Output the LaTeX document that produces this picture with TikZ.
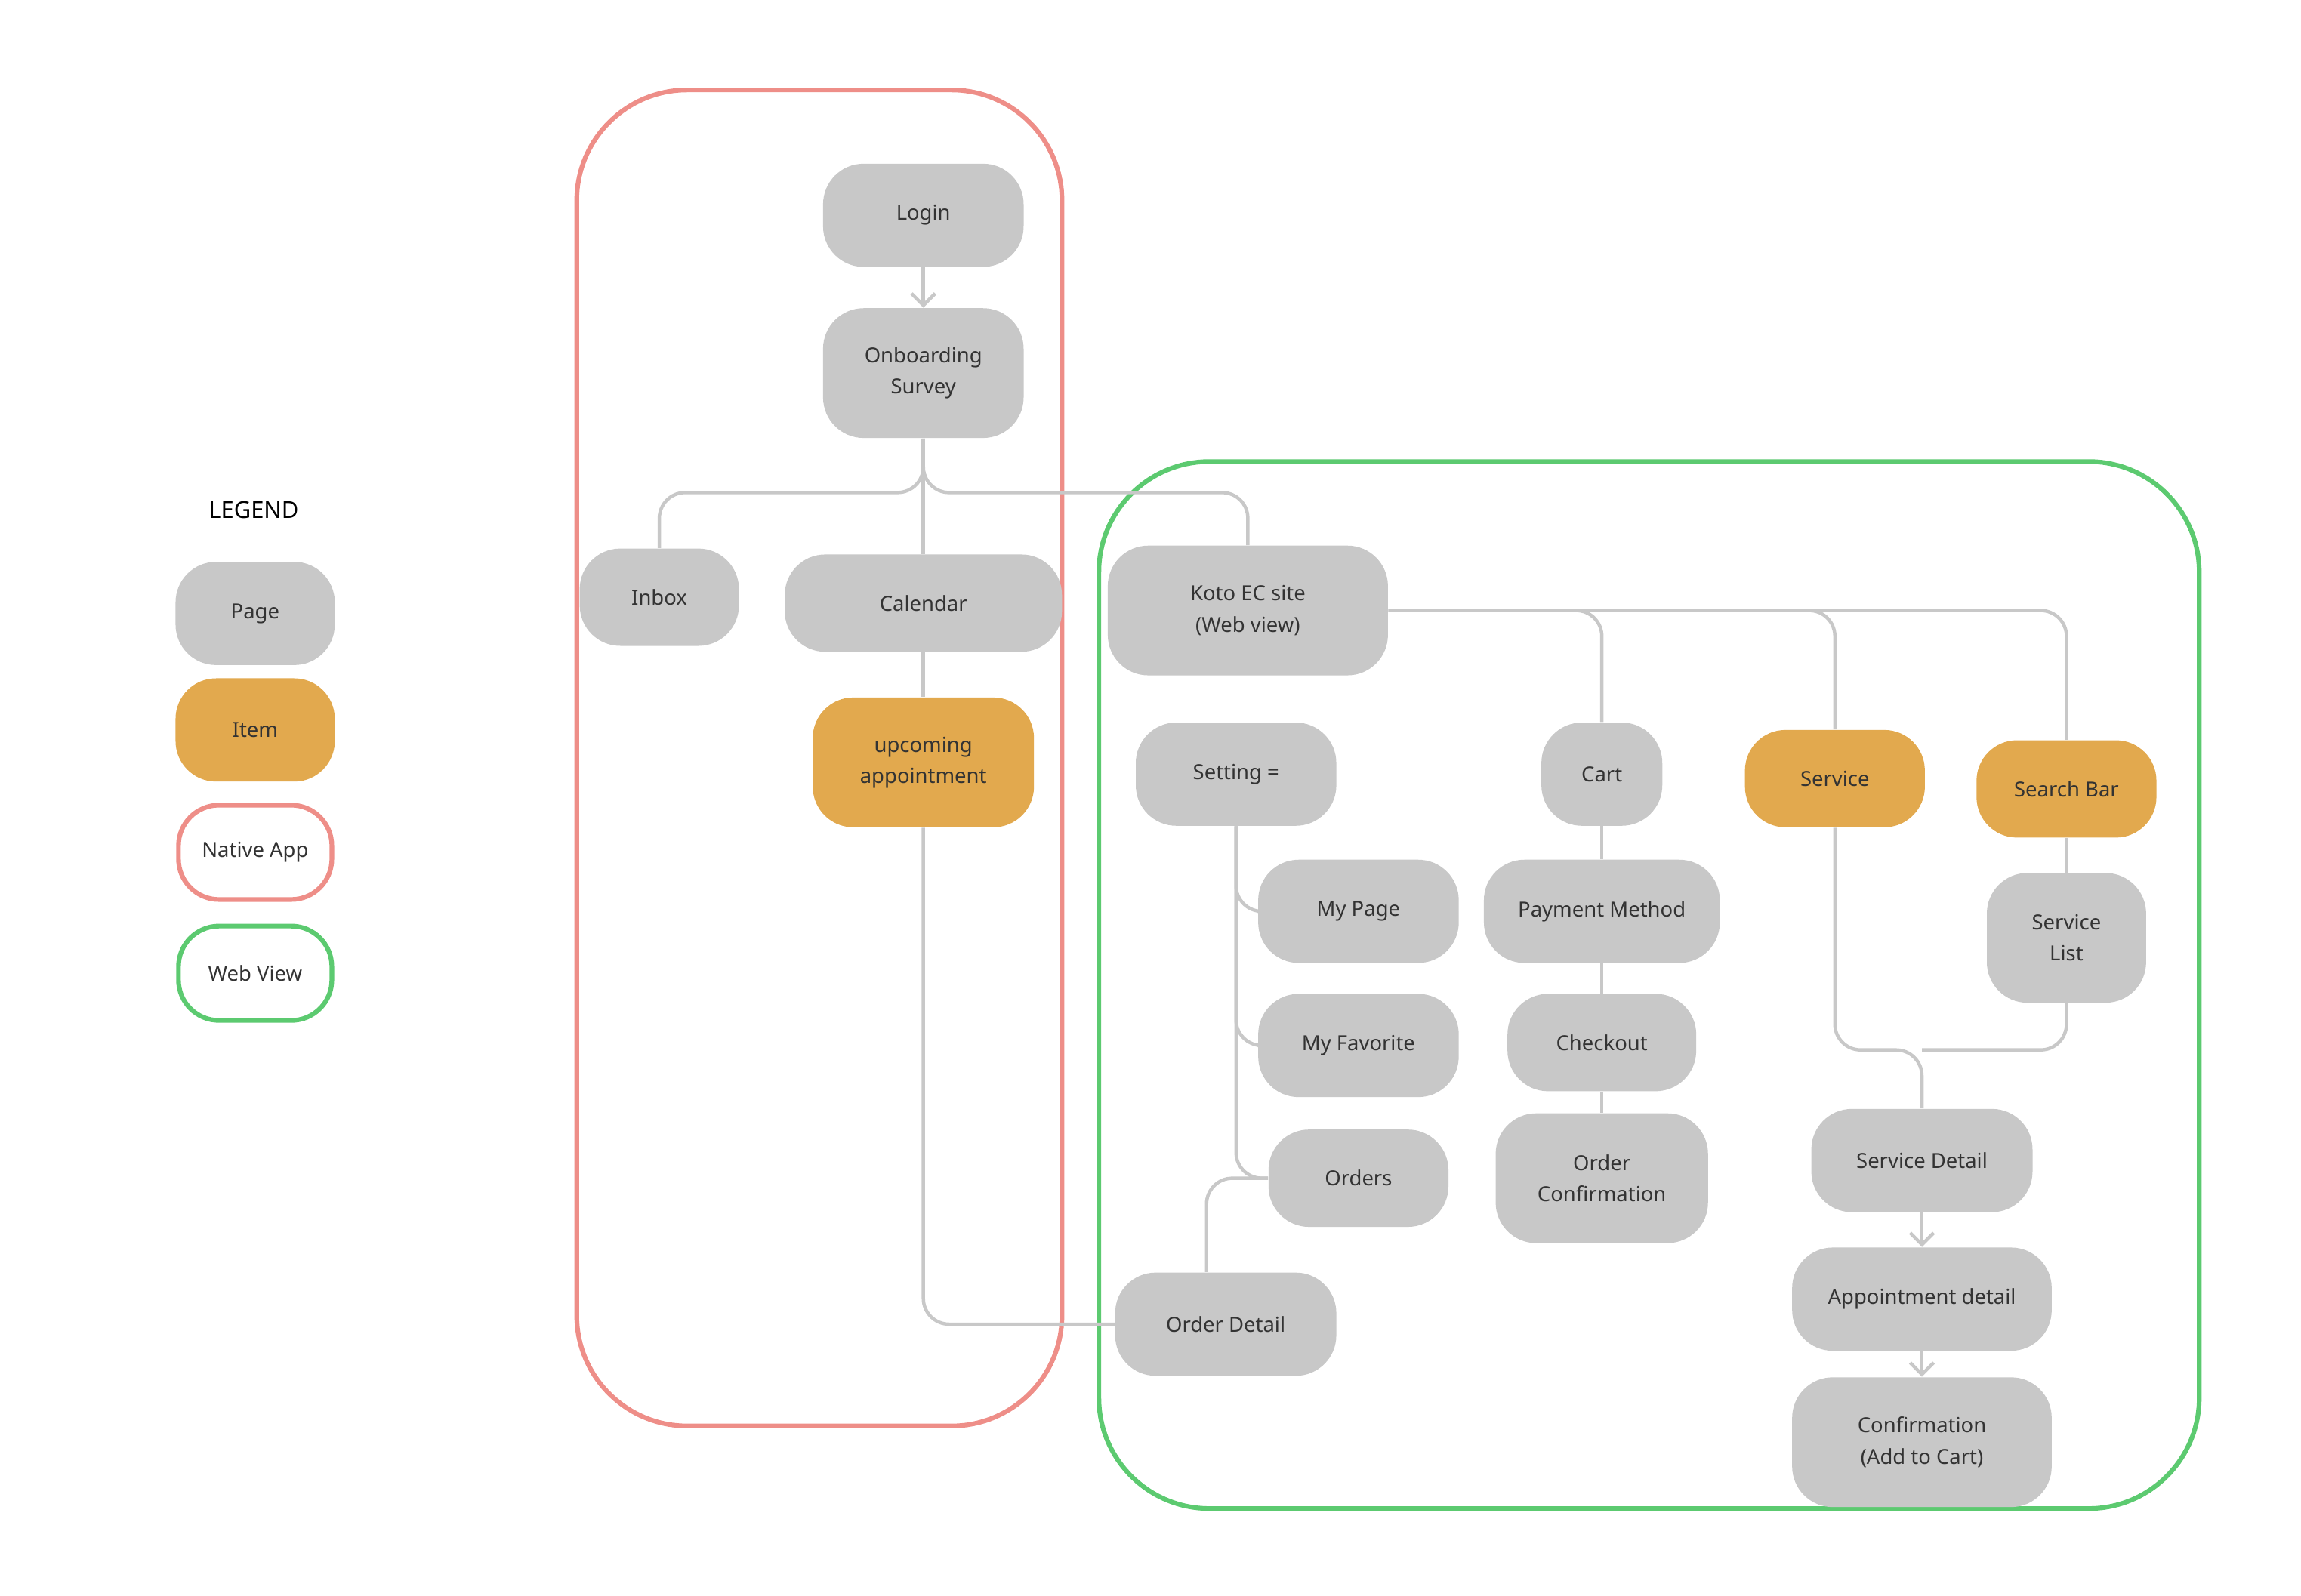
\documentclass[tikz,border=0pt]{standalone}
\usepackage{fontspec}
\setmainfont{Noto Sans}
\usetikzlibrary{positioning, arrows.meta, calc}
\definecolor{pagegray}{RGB}{200,200,200}
\definecolor{itemorange}{RGB}{226,169,78}
\definecolor{linegray}{RGB}{200,200,200}
\definecolor{nativered}{RGB}{238,142,136}
\definecolor{webgreen}{RGB}{92,202,112}
\definecolor{textgray}{RGB}{51,51,51}

\begin{document}
\begin{tikzpicture}[x=0.02cm, y=-0.02cm,
	page/.style={fill=pagegray, rounded corners=0.55cm, align=center, font=\fontsize{8}{12}\selectfont, text=textgray, inner sep=0pt},
	item/.style={page, fill=itemorange},
	wire/.style={draw=linegray, line width=1.3pt, rounded corners=0.35cm},
	arr/.style={wire, -{Straight Barb[length=1.6mm, width=3.2mm]}}]
		\useasboundingbox (0,0) rectangle (1560,1082);
		%% frames
		\draw [nativered, line width=1.8pt, rounded corners=1.5cm] (391,61) rectangle (720,967);
		\draw [webgreen, line width=1.8pt, rounded corners=1.5cm] (745,313) rectangle (1491,1023);
		%% legend
		\node [font=\fontsize{9}{11}\selectfont\bfseries] (legend) at (172,346) {LEGEND};
		\node [page, minimum width=2.16cm, minimum height=1.4cm] (lgpage) at (173,416) {Page};
		\node [item, minimum width=2.16cm, minimum height=1.4cm] (lgitem) at (173,495) {Item};
		\node [page, fill=white, draw=nativered, line width=1.8pt, minimum width=2.08cm, minimum height=1.28cm] (lgnative) at (173,578) {Native App};
		\node [page, fill=white, draw=webgreen, line width=1.8pt, minimum width=2.08cm, minimum height=1.28cm] (lgweb) at (173,660) {Web View};
		%% native app
		\node [page, minimum width=2.72cm, minimum height=1.4cm] (login) at (626,146) {Login};
		\node [page, minimum width=2.72cm, minimum height=1.76cm] (survey) at (626,253) {Onboarding\\Survey};
		\node [page, minimum width=2.16cm, minimum height=1.32cm] (inbox) at (447,405) {Inbox};
		\node [page, minimum width=3.76cm, minimum height=1.32cm] (calendar) at (626,409) {Calendar};
		\node [item, minimum width=3.0cm, minimum height=1.76cm] (upcoming) at (626,517) {upcoming\\appointment};
		%% web view
		\node [page, minimum width=3.8cm, minimum height=1.76cm] (koto) at (846,414) {Koto EC site\\(Web view)};
		\node [page, minimum width=2.72cm, minimum height=1.4cm] (setting) at (838,525) {Setting =};
		\node [page, minimum width=2.72cm, minimum height=1.4cm] (mypage) at (921,618) {My Page};
		\node [page, minimum width=2.72cm, minimum height=1.4cm] (myfav) at (921,709) {My Favorite};
		\node [page, minimum width=2.44cm, minimum height=1.32cm] (orders) at (921,799) {Orders};
		\node [page, minimum width=3.0cm, minimum height=1.4cm] (orderdetail) at (831,898) {Order Detail};
		\node [page, minimum width=1.64cm, minimum height=1.4cm] (cart) at (1086,525) {Cart};
		\node [page, minimum width=3.2cm, minimum height=1.4cm] (payment) at (1086,618) {Payment Method};
		\node [page, minimum width=2.56cm, minimum height=1.32cm] (checkout) at (1086,707) {Checkout};
		\node [page, minimum width=2.88cm, minimum height=1.76cm] (orderconf) at (1086,799) {Order\\Confirmation};
		\node [item, minimum width=2.44cm, minimum height=1.32cm] (service) at (1244,528) {Service};
		\node [item, minimum width=2.44cm, minimum height=1.32cm] (search) at (1401,535) {Search Bar};
		\node [page, minimum width=2.16cm, minimum height=1.76cm] (servlist) at (1401,636) {Service\\List};
		\node [page, minimum width=3.0cm, minimum height=1.4cm] (servdetail) at (1303,787) {Service Detail};
		\node [page, minimum width=3.52cm, minimum height=1.4cm] (apptdetail) at (1303,881) {Appointment detail};
		\node [page, minimum width=3.52cm, minimum height=1.76cm] (confirm) at (1303,978) {Confirmation\\(Add to Cart)};
		%% connectors
		\coordinate (split) at (626,334);
		\coordinate (join) at (1303,712);
		\draw [arr] (login) -- (survey);
		\draw [wire] (survey.south) -- (calendar.north);
		\draw [wire] (survey.south) -- (split) -| (inbox.north);
		\draw [wire] (survey.south) -- (split) -| (koto.north);
		\draw [wire] (calendar) -- (upcoming);
		\draw [wire] (upcoming.south) |- (orderdetail.west);
		\draw [wire] (koto.east) -| (search.north);
		\draw [wire] (koto.east) -| (cart.north);
		\draw [wire] (koto.east) -| (service.north);
		\draw [wire] (setting.south) |- (orders.west);
		\draw [wire] (setting.south) |- (mypage.west);
		\draw [wire] (setting.south) |- (myfav.west);
		\draw [wire] (orders.west) -| (orderdetail.north -| 818,863);
		\draw [wire] (cart) -- (payment);
		\draw [wire] (payment) -- (checkout);
		\draw [wire] (checkout) -- (orderconf);
		\draw [wire] (search) -- (servlist);
		\draw [wire] (service.south) |- (join) -- (servdetail.north);
		\draw [wire] (servlist.south) |- (join);
		\draw [arr] (servdetail) -- (apptdetail);
		\draw [arr] (apptdetail) -- (confirm);
		\end{tikzpicture}
\end{document}
